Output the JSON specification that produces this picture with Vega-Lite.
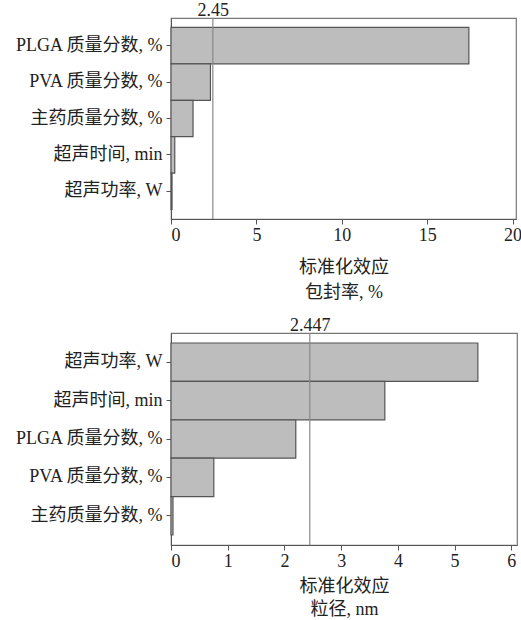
{
  "$schema": "https://vega.github.io/schema/vega-lite/v6.json",
  "padding": {"left": 13, "top": 0, "right": 3, "bottom": 0},
  "background": "white",
  "datasets": {
    "top": [
      {"factor": "PLGA 质量分数, %", "effect": 17.44},
      {"factor": "PVA 质量分数, %", "effect": 2.31},
      {"factor": "主药质量分数, %", "effect": 1.29},
      {"factor": "超声时间, min", "effect": 0.22},
      {"factor": "超声功率, W", "effect": 0.06}
    ],
    "topRef": [{"value": 2.45}],
    "bottom": [
      {"factor": "超声功率, W", "effect": 5.41},
      {"factor": "超声时间, min", "effect": 3.77},
      {"factor": "PLGA 质量分数, %", "effect": 2.2},
      {"factor": "PVA 质量分数, %", "effect": 0.755},
      {"factor": "主药质量分数, %", "effect": 0.035}
    ],
    "bottomRef": [{"value": 2.447}]
  },
  "vconcat": [
    {
      "width": 345,
      "height": 201,
      "layer": [
        {
          "data": {"name": "top"},
          "mark": {"type": "bar", "fill": "#bdbdbd", "stroke": "#555555", "strokeWidth": 1.2},
          "encoding": {
            "y": {"field": "factor", "type": "nominal", "sort": null,
                  "scale": {"paddingInner": 0, "paddingOuter": 0.26},
                  "axis": {"title": null}},
            "x": {"field": "effect", "type": "quantitative",
                  "scale": {"domain": [0, 20.2], "nice": false, "zero": true},
                  "axis": {"values": [0, 5, 10, 15, 20], "title": ["标准化效应", "包封率, %"]}}
          }
        },
        {
          "data": {"name": "topRef"},
          "mark": {"type": "rule", "stroke": "#888888", "strokeWidth": 1.2},
          "encoding": {
            "x": {"field": "value", "type": "quantitative",
                  "axis": {"orient": "top", "values": [2.45], "format": ".2f", "ticks": false, "domain": false, "title": null, "labelPadding": -1}}
          }
        }
      ],
      "resolve": {"axis": {"x": "independent"}}
    },
    {
      "width": 346,
      "height": 212,
      "layer": [
        {
          "data": {"name": "bottom"},
          "mark": {"type": "bar", "fill": "#bdbdbd", "stroke": "#555555", "strokeWidth": 1.2},
          "encoding": {
            "y": {"field": "factor", "type": "nominal", "sort": null,
                  "scale": {"paddingInner": 0, "paddingOuter": 0.26},
                  "axis": {"title": null}},
            "x": {"field": "effect", "type": "quantitative",
                  "scale": {"domain": [0, 6.1], "nice": false, "zero": true},
                  "axis": {"values": [0, 1, 2, 3, 4, 5, 6], "title": ["标准化效应", "粒径, nm"], "titlePadding": 7, "titleLineHeight": 23}}
          }
        },
        {
          "data": {"name": "bottomRef"},
          "mark": {"type": "rule", "stroke": "#888888", "strokeWidth": 1.2},
          "encoding": {
            "x": {"field": "value", "type": "quantitative",
                  "axis": {"orient": "top", "values": [2.447], "format": ".3f", "ticks": false, "domain": false, "title": null, "labelPadding": -1}}
          }
        }
      ],
      "resolve": {"axis": {"x": "independent"}}
    }
  ],
  "spacing": 13,
  "config": {
    "font": "Liberation Serif, Noto Sans CJK SC",
    "view": {"stroke": "#777777", "strokeWidth": 1.2},
    "axis": {
      "grid": false,
      "labelFont": "Liberation Serif, Noto Sans CJK SC",
      "titleFont": "Liberation Serif, Noto Sans CJK SC",
      "labelFontSize": 18,
      "titleFontSize": 18,
      "titleFontWeight": "normal",
      "labelColor": "#222222",
      "titleColor": "#222222",
      "domainColor": "#555555",
      "tickColor": "#555555",
      "tickSize": 5,
      "labelPadding": 2,
      "titlePadding": 14,
      "titleLineHeight": 25
    },
    "axisY": {"labelFontSize": 18, "labelPadding": 4, "labelLimit": 300}
  }
}
